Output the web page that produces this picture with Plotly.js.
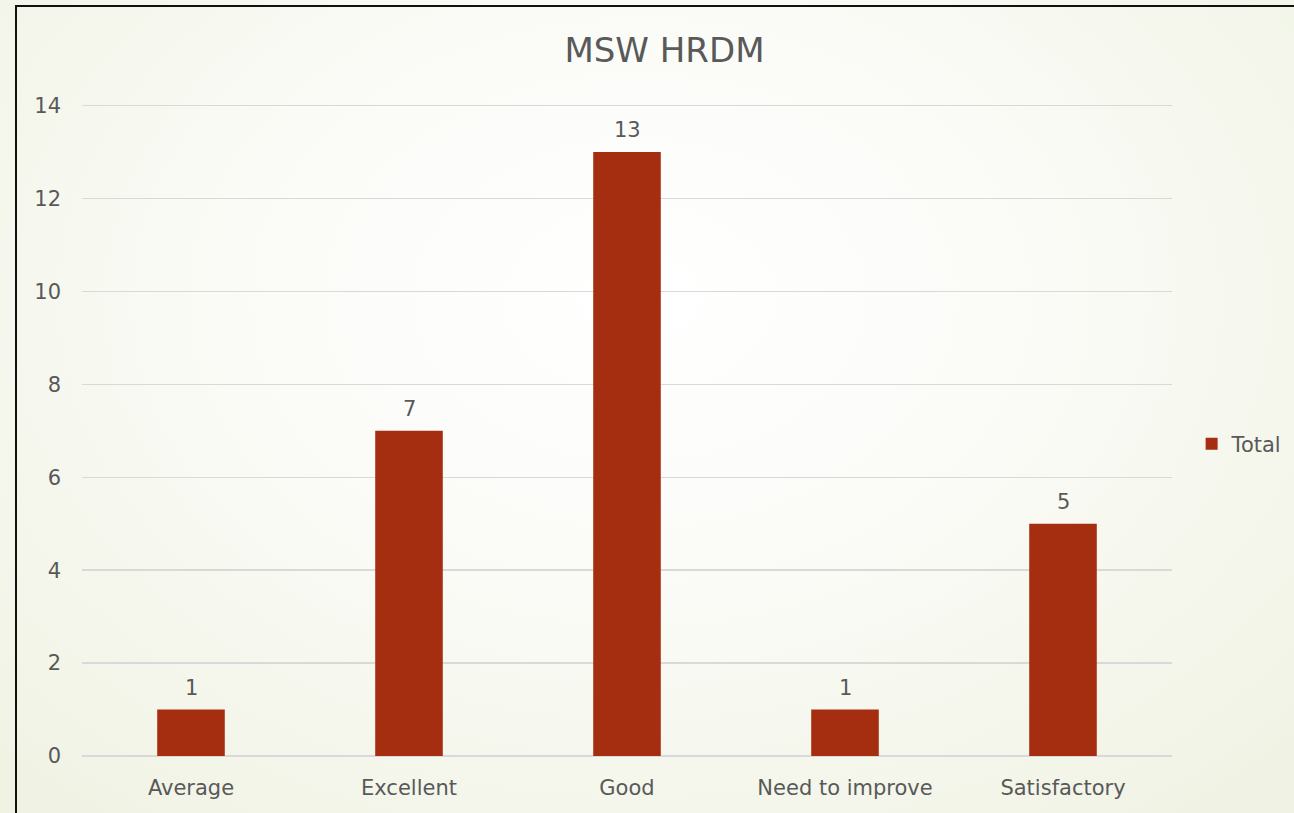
<!DOCTYPE html>
<html>
<head>
<meta charset="utf-8">
<script src="https://cdn.plot.ly/plotly-3.0.1.min.js"></script>
<style>
html, body { margin:0; padding:0; width:1294px; height:813px; overflow:hidden;
  background: radial-gradient(ellipse 900px 650px at 640px 300px, #ffffff 0%, #fbfcf8 40%, #f0f3e4 100%); }
#frame { position:absolute; left:15px; top:5px; width:1300px; height:820px; border-top:2px solid #111; border-left:2px solid #111; }
#chart { position:absolute; left:0; top:0; width:1294px; height:813px; }
</style>
</head>
<body>
<div id="frame"></div>
<div id="chart"></div>
<script>
const categories = ["Average", "Excellent", "Good", "Need to improve", "Satisfactory"];
const totals = [1, 7, 13, 1, 5];
const seriesName = "Total";
const yTicks = [0, 2, 4, 6, 8, 10, 12, 14];

const textColor = "#595959";
const fontFamily = "'DejaVu Sans', 'Liberation Sans', sans-serif";

const trace = {
  type: "bar",
  x: categories,
  y: totals,
  name: seriesName,
  marker: { color: "#A62E10" },
  showlegend: true
};

const labels = categories.map((c, i) => ({
  x: c, y: totals[i], xref: "x", yref: "y",
  text: String(totals[i]), showarrow: false,
  yanchor: "bottom", yshift: 8,
  font: { family: fontFamily, size: 21, color: textColor }
}));

const layout = {
  width: 1294,
  height: 813,
  paper_bgcolor: "rgba(0,0,0,0)",
  plot_bgcolor: "rgba(0,0,0,0)",
  margin: { l: 82, r: 122, t: 101, b: 57, autoexpand: false },
  font: { family: fontFamily, color: textColor, size: 21 },
  title: { text: "MSW HRDM", font: { family: fontFamily, size: 34, color: textColor }, x: 0.5135, xanchor: "center", y: 0.938, yanchor: "middle" },
  bargap: 0.69,
  annotations: labels,
  xaxis: {
    type: "category",
    showgrid: false,
    showline: false,
    ticks: "",
    tickfont: { family: fontFamily, size: 21, color: textColor },
    ticklabelstandoff: 17
  },
  yaxis: {
    range: [0, 14.1],
    tickvals: yTicks,
    showgrid: true,
    gridcolor: "#d9d9d9",
    gridwidth: 1.5,
    zeroline: true,
    zerolinecolor: "#d9d9d9",
    zerolinewidth: 1.5,
    showline: false,
    ticks: "",
    tickfont: { family: fontFamily, size: 21, color: textColor },
    ticklabelstandoff: 20
  },
  legend: {
    x: 1.018, xanchor: "left", y: 0.476, yanchor: "middle",
    font: { family: fontFamily, size: 21, color: textColor },
    bgcolor: "rgba(0,0,0,0)",
    itemwidth: 30
  }
};

Plotly.newPlot("chart", [trace], layout, { displayModeBar: false, staticPlot: true });
</script>
</body>
</html>
